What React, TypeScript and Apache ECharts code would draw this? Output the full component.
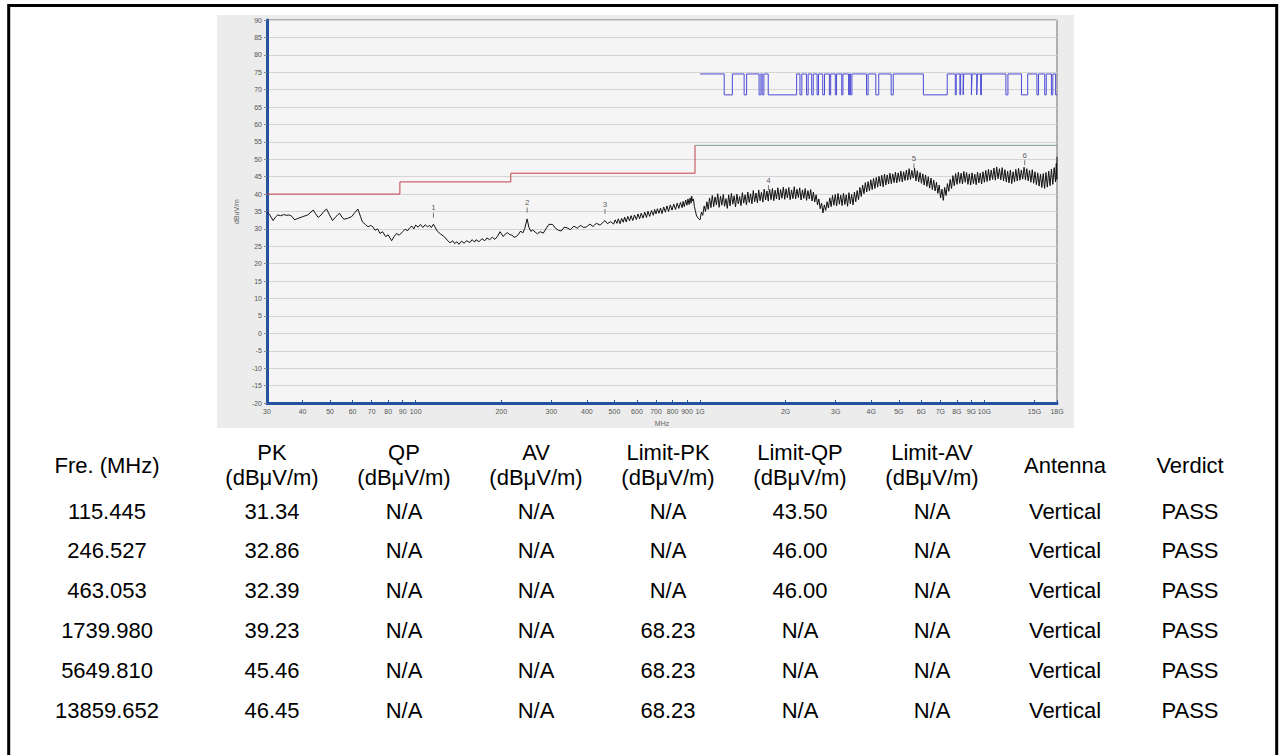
import React, { useEffect, useRef } from "react";
import * as echarts from "echarts";

// ---------- axis ticks ----------
const xTickFreqs = [30, 40, 50, 60, 70, 80, 90, 100, 200, 300, 400, 500, 600, 700, 800, 900, 1000, 2000, 3000, 4000, 5000, 6000, 7000, 8000, 9000, 10000, 15000, 18000];
const xTickLabels = ["30", "40", "50", "60", "70", "80", "90", "100", "200", "300", "400", "500", "600", "700", "800", "900", "1G", "2G", "3G", "4G", "5G", "6G", "7G", "8G", "9G", "10G", "15G", "18G"];
const yMin = -20;
const yMax = 90;
const yStep = 5;

// ---------- limit lines (MHz, dBuV/m) ----------
const limitRed: [number, number][] = [[30, 40], [88, 40], [88, 43.5], [216, 43.5], [216, 46], [960, 46], [960, 54]];
const limitGreen: [number, number][] = [[960, 54], [18000, 54]];

// ---------- blue step trace (MHz, level) ----------
const blueSteps: [number, number][] = [
  [1000, 74.5], [1216, 68.5], [1299, 74.5], [1429, 68.5], [1458, 74.5], [1613, 68.5], [1637, 74.5], [1654, 68.5], [1677, 74.5], [1737, 68.5],
  [2186, 74.5], [2246, 68.5], [2280, 74.5], [2369, 68.5], [2400, 74.5], [2470, 68.5], [2501, 74.5], [2580, 68.5], [2610, 74.5],
  [2700, 68.5], [2740, 74.5], [2850, 68.5], [2880, 74.5], [2990, 68.5], [3020, 74.5],
  [3150, 68.5], [3180, 74.5], [3330, 68.5], [3350, 74.5], [3380, 68.5], [3420, 74.5],
  [3850, 68.5], [3900, 74.5], [4150, 68.5], [4250, 74.5], [4700, 68.5], [4780, 74.5],
  [6100, 68.5], [7400, 74.5],
  [7900, 68.5], [7960, 74.5], [8200, 68.5], [8250, 74.5], [8420, 68.5], [8460, 74.5],
  [9000, 68.5], [9050, 74.5], [9400, 68.5], [9450, 74.5], [9700, 68.5], [9760, 74.5],
  [11900, 68.5], [12100, 74.5], [13500, 68.5], [14200, 74.5],
  [15300, 68.5], [15500, 74.5], [16300, 68.5], [16500, 74.5], [17200, 68.5], [17400, 74.5], [17800, 68.5], [18000, 68.5]
];

// ---------- measured emission trace (MHz, dBuV/m) ----------
const emission: [number, number][] = [
  [30, 34.9], [30.6, 34.2], [31.5, 32.4], [32.2, 33.5], [32.7, 34], [33.5, 33.8], [34.3, 34.1], [35.2, 33.9], [36, 34], [36.7, 33.6],
  [37.5, 32.6], [38.5, 33], [40, 33.5], [41.7, 34], [43.6, 35.4], [44.5, 34.3], [45.4, 33.3], [46.5, 34], [47.5, 35], [48.6, 35.7],
  [49.8, 34], [51, 32.4], [52.5, 33.6], [54, 34.5], [55, 33.4], [56, 32.8], [57.5, 33], [59.5, 33.5], [61, 34.6], [62.6, 35.7],
  [64, 33.5], [65, 32], [66.5, 31.3], [68, 30.6], [69.5, 31], [70.7, 30.6], [72, 29.6], [73.5, 30], [74.9, 28.7], [76.5, 29.2],
  [78.4, 27.8], [80, 28.3], [82.3, 26.6], [84, 27.8], [85.7, 28.7], [87.5, 28.2], [90, 29.2], [92, 30], [93.5, 29.4], [95, 30.2],
  [97, 30.8], [98.5, 30], [100, 31.1], [102, 30.5], [104, 31.3], [106, 30.4], [108, 31.2], [110, 30.6], [112, 31], [113.5, 30.4],
  [115.445, 31.34], [117, 30.5], [119, 29.4], [122, 28.6], [126, 27.8], [129, 26.8], [132, 26], [135, 26.6], [137, 25.8], [139.6, 26.3],
  [142, 25.6], [145, 26.5], [148, 25.9], [151, 26.6], [155, 26.1], [158, 26.9], [161, 26.2], [163, 26.9], [167, 26.3], [171, 27.2],
  [175, 26.6], [178, 27.4], [182, 26.9], [186, 27.6], [190, 27], [194, 27.9], [198, 29.2], [203, 27.8], [207, 28.6], [210, 28.9],
  [214, 28.4], [218, 28.2], [222, 27.6], [226, 27.8], [230, 28.5], [234, 29.4], [238, 28.8], [242, 30.2], [246.527, 32.86], [250, 30.5],
  [254, 29.3], [258, 29.7], [263, 29.1], [268, 28.6], [274, 29.2], [281, 28.8], [287, 30], [294, 31.3], [303, 31.3], [310, 30.2],
  [318, 29.6], [325, 29.4], [333, 30.5], [341, 30.3], [350, 29.8], [360, 30.8], [370, 30.2], [380, 31], [390, 30.4], [399, 30.6],
  [410, 31.4], [420, 30.7], [432, 31.6], [445, 31.1], [455, 31.8], [463.053, 32.39], [472, 31.5], [485, 32.1], [497, 31.4], [503, 32.6],
  [510, 31.6], [516, 32.9], [523, 31.5], [530, 33.0], [537, 31.9], [543, 33.4], [550, 32.0], [557, 33.6], [565, 32.3], [572, 33.8],
  [580, 32.4], [588, 34.0], [597, 32.7], [605, 34.3], [613, 32.9], [621, 34.5], [630, 33.1], [639, 34.8], [648, 33.3], [656, 35.1],
  [665, 33.6], [675, 35.3], [685, 33.9], [692, 35.6], [700, 34.3], [708, 35.8], [717, 34.5], [726, 36.0], [735, 34.4], [745, 36.3],
  [755, 34.8], [765, 36.6], [775, 35.0], [786, 36.9], [797, 35.4], [808, 37.1], [820, 35.6], [831, 37.4], [842, 35.9], [853, 37.6],
  [865, 36.1], [872, 37.9], [880, 36.4], [890, 38.3], [899, 36.8], [907, 38.6], [915, 37.0], [923, 38.9], [930, 37.4], [935, 39.4],
  [940, 38.0], [948, 38.6], [955, 36.4], [963, 35.2], [970, 34.0], [978, 33.4], [985, 33.1], [992, 32.8], [1000, 32.6], [1011, 34.8],
  [1022, 33.9], [1034, 36.6], [1045, 35.0], [1057, 37.8], [1068, 35.6], [1080, 38.9], [1092, 36.1], [1104, 39.6], [1117, 36.4], [1129, 39.2],
  [1142, 36.9], [1154, 40.1], [1167, 36.2], [1180, 39.4], [1193, 36.8], [1207, 39.9], [1220, 36.5], [1234, 38.7], [1247, 35.9], [1261, 39.8],
  [1275, 36.6], [1289, 40.2], [1304, 37.1], [1318, 39.5], [1333, 36.3], [1348, 40.0], [1363, 37.2], [1378, 39.3], [1393, 36.7], [1409, 40.4],
  [1424, 37.4], [1440, 39.8], [1456, 36.9], [1472, 40.6], [1489, 37.6], [1505, 40.1], [1522, 37.2], [1539, 41.0], [1556, 37.8], [1573, 40.3],
  [1591, 37.5], [1608, 41.2], [1626, 38.1], [1644, 40.5], [1663, 37.7], [1681, 41.4], [1700, 38.3], [1719, 40.9], [1738, 38.0], [1739.98, 39.23],
  [1757, 41.3], [1777, 38.4], [1797, 41.6], [1817, 38.1], [1837, 41.1], [1857, 38.6], [1878, 41.8], [1899, 38.3], [1920, 41.3], [1941, 38.8],
  [1963, 42.0], [1985, 38.5], [2007, 41.5], [2029, 38.9], [2052, 41.9], [2074, 38.4], [2098, 41.2], [2121, 38.7], [2144, 42.1], [2168, 38.6],
  [2192, 41.4], [2217, 39.0], [2241, 41.8], [2266, 38.3], [2292, 41.2], [2317, 38.8], [2343, 41.6], [2369, 38.2], [2395, 41.0], [2422, 38.6],
  [2449, 41.3], [2476, 38.0], [2504, 40.6], [2531, 37.7], [2560, 39.8], [2588, 36.9], [2617, 38.6], [2646, 35.8], [2676, 37.4], [2705, 34.6],
  [2736, 36.9], [2766, 35.3], [2797, 37.8], [2828, 36.0], [2859, 38.9], [2891, 36.4], [2923, 39.6], [2956, 36.8], [2989, 39.9], [3022, 36.6],
  [3056, 40.2], [3090, 37.1], [3124, 39.7], [3159, 36.7], [3194, 40.3], [3230, 37.0], [3266, 39.8], [3302, 36.5], [3339, 40.4], [3376, 37.2],
  [3413, 39.9], [3451, 36.9], [3490, 40.6], [3529, 37.8], [3568, 41.0], [3608, 38.4], [3648, 41.9], [3689, 39.3], [3730, 42.6], [3771, 40.1],
  [3813, 43.3], [3856, 40.6], [3899, 43.6], [3942, 40.9], [3986, 44.1], [4030, 41.3], [4075, 44.5], [4121, 41.6], [4167, 44.8], [4213, 42.0],
  [4260, 45.1], [4307, 42.3], [4355, 45.4], [4404, 42.1], [4453, 45.7], [4502, 42.6], [4552, 45.5], [4603, 42.9], [4654, 46.0], [4706, 43.0],
  [4759, 45.8], [4812, 43.3], [4865, 46.3], [4919, 43.2], [4974, 46.1], [5030, 43.6], [5086, 46.6], [5142, 43.5], [5200, 46.4], [5258, 43.9],
  [5316, 46.9], [5375, 44.0], [5435, 47.3], [5496, 44.2], [5557, 46.8], [5619, 44.6], [5649.81, 45.46], [5681, 47.4], [5744, 43.8], [5808, 46.7],
  [5873, 43.5], [5939, 46.2], [6005, 43.1], [6072, 45.8], [6139, 42.6], [6208, 45.5], [6277, 42.2], [6347, 45.0], [6417, 41.7], [6489, 44.6],
  [6561, 41.3], [6634, 44.0], [6708, 40.9], [6783, 43.4], [6859, 40.2], [6935, 42.6], [7012, 38.9], [7090, 41.4], [7169, 38.2], [7249, 41.9],
  [7330, 39.6], [7412, 43.0], [7494, 40.8], [7578, 44.2], [7662, 41.6], [7748, 45.3], [7834, 42.4], [7921, 45.9], [8010, 42.8], [8099, 46.3],
  [8189, 43.1], [8280, 46.0], [8373, 42.9], [8466, 46.5], [8560, 43.4], [8656, 46.2], [8752, 42.8], [8850, 45.8], [8948, 42.6], [9048, 46.1],
  [9149, 43.0], [9251, 45.7], [9354, 42.7], [9458, 46.3], [9563, 43.2], [9670, 46.0], [9778, 42.9], [9887, 46.4], [9997, 43.4], [10108, 46.8],
  [10221, 43.6], [10335, 47.1], [10450, 43.9], [10566, 46.9], [10684, 44.2], [10803, 47.5], [10924, 44.0], [11045, 47.8], [11168, 44.4], [11293, 47.3],
  [11419, 44.1], [11546, 47.6], [11675, 43.8], [11805, 47.0], [11936, 43.5], [12069, 46.6], [12204, 43.2], [12340, 46.9], [12477, 43.0], [12616, 46.4],
  [12757, 43.5], [12899, 47.1], [13043, 43.8], [13188, 47.4], [13335, 44.0], [13484, 46.9], [13634, 44.3], [13786, 47.7], [13859.652, 46.45], [13940, 44.1],
  [14095, 47.3], [14252, 43.8], [14411, 46.8], [14571, 43.4], [14734, 47.0], [14898, 43.1], [15064, 46.4], [15232, 42.7], [15401, 46.1], [15573, 42.3],
  [15746, 45.7], [15922, 41.9], [16099, 45.9], [16279, 41.6], [16460, 46.2], [16644, 42.0], [16829, 46.6], [17017, 42.4], [17206, 47.2], [17398, 42.8],
  [17592, 47.6], [17788, 43.5], [17900, 48.8], [17986, 44.2], [18000, 50.7]
];

// ---------- result table ----------
const tableHeaders = ["Fre. (MHz)", "PK\n(dBμV/m)", "QP\n(dBμV/m)", "AV\n(dBμV/m)", "Limit-PK\n(dBμV/m)", "Limit-QP\n(dBμV/m)", "Limit-AV\n(dBμV/m)", "Antenna", "Verdict"];
const colFreq = ["115.445", "246.527", "463.053", "1739.980", "5649.810", "13859.652"];
const colPK = ["31.34", "32.86", "32.39", "39.23", "45.46", "46.45"];
const colQP = ["N/A", "N/A", "N/A", "N/A", "N/A", "N/A"];
const colAV = ["N/A", "N/A", "N/A", "N/A", "N/A", "N/A"];
const colLimitPK = ["N/A", "N/A", "N/A", "68.23", "68.23", "68.23"];
const colLimitQP = ["43.50", "46.00", "46.00", "N/A", "N/A", "N/A"];
const colLimitAV = ["N/A", "N/A", "N/A", "N/A", "N/A", "N/A"];
const colAntenna = ["Vertical", "Vertical", "Vertical", "Vertical", "Vertical", "Vertical"];
const colVerdict = ["PASS", "PASS", "PASS", "PASS", "PASS", "PASS"];

const FONT = "'Liberation Sans', Arial, Helvetica, sans-serif";

export default function App() {
  const ref = useRef<HTMLDivElement>(null);

  useEffect(() => {
    if (!ref.current) return;
    const chart = echarts.init(ref.current, undefined, { renderer: "svg" });

    const logTicks = xTickFreqs.map((f) => Math.log10(f));
    const tickLabel = (v: number) => {
      const i = xTickFreqs.findIndex((f) => Math.abs(Math.log10(f) - v) < 1e-6);
      return i >= 0 ? xTickLabels[i] : "";
    };

    const columns = [colFreq, colPK, colQP, colAV, colLimitPK, colLimitQP, colLimitAV, colAntenna, colVerdict];
    const colX = [107, 272, 404, 536, 668, 800, 932, 1065, 1190];
    const headerY = 465;
    const rowY0 = 511;
    const rowGap = 39.8;
    const tableFont = `22px ${FONT}`;

    const tableTexts: any[] = [];
    tableHeaders.forEach((h, c) => {
      tableTexts.push({
        type: "text",
        x: colX[c],
        y: headerY,
        z: 20,
        style: { text: h, fill: "#000", font: tableFont, align: "center", verticalAlign: "middle", lineHeight: 25 },
      });
    });
    columns.forEach((col, c) => {
      col.forEach((val, r) => {
        tableTexts.push({
          type: "text",
          x: colX[c],
          y: rowY0 + r * rowGap,
          z: 20,
          style: { text: val, fill: "#000", font: tableFont, align: "center", verticalAlign: "middle" },
        });
      });
    });

    const markerData = colFreq.map((f, i) => ({
      value: [Number(f), Number(colPK[i])],
      itemStyle: { color: "#555555" },
      label: { color: "#333333" },
    }));

    const option: any = {
      animation: false,
      backgroundColor: "#ffffff",
      textStyle: { fontFamily: FONT },
      grid: {
        left: 267,
        top: 20,
        right: 225,
        bottom: 352,
        show: true,
        backgroundColor: "#f5f5f5",
        borderColor: "#6f6f6f",
        borderWidth: 1,
      },
      xAxis: [
        {
          type: "log",
          logBase: 10,
          min: 30,
          max: 18000,
          position: "bottom",
          axisLine: { show: true, onZero: false, lineStyle: { color: "#24529e", width: 3 } },
          axisTick: { show: false },
          axisLabel: { show: false },
          splitLine: { show: false },
          name: "MHz",
          nameLocation: "middle",
          nameGap: 17,
          nameTextStyle: { fontSize: 7, color: "#666" },
        },
        {
          type: "value",
          position: "bottom",
          min: Math.log10(30),
          max: Math.log10(18000),
          axisLine: { show: false, onZero: false },
          axisTick: { show: true, inside: true, length: 3, customValues: logTicks, lineStyle: { color: "#24529e" } },
          axisLabel: { customValues: logTicks, formatter: tickLabel, fontSize: 7, color: "#555", margin: 5 },
          splitLine: { show: false },
        },
      ],
      yAxis: {
        type: "value",
        min: yMin,
        max: yMax,
        interval: yStep,
        axisLine: { show: true, lineStyle: { color: "#24529e", width: 3 } },
        axisTick: { show: true, length: 3, lineStyle: { color: "#888" } },
        axisLabel: { fontSize: 7, color: "#555", margin: 5 },
        splitLine: { show: true, lineStyle: { color: "#d4d4d4", width: 1 } },
        name: "dBuV/m",
        nameLocation: "middle",
        nameRotate: 90,
        nameGap: 27,
        nameTextStyle: { fontSize: 7, color: "#666" },
      },
      series: [
        {
          name: "Limit",
          type: "line",
          xAxisIndex: 0,
          data: limitRed,
          showSymbol: false,
          lineStyle: { color: "#c2404c", width: 1 },
          z: 3,
        },
        {
          name: "Limit PK",
          type: "line",
          xAxisIndex: 0,
          data: limitGreen,
          showSymbol: false,
          lineStyle: { color: "#7fa08a", width: 1 },
          z: 3,
        },
        {
          name: "Height",
          type: "line",
          xAxisIndex: 0,
          data: blueSteps,
          step: "end",
          showSymbol: false,
          lineStyle: { color: "#4b4bd6", width: 1 },
          z: 3,
        },
        {
          name: "Emission",
          type: "line",
          xAxisIndex: 0,
          data: emission,
          showSymbol: false,
          lineStyle: { color: "#111111", width: 1 },
          z: 4,
        },
        {
          name: "Markers",
          type: "scatter",
          xAxisIndex: 0,
          colorBy: "series",
          data: markerData,
          symbol: "rect",
          symbolSize: [1, 5],
          symbolOffset: [0, -9],
          itemStyle: { color: "#555555" },
          label: {
            show: true,
            position: "top",
            distance: 1,
            formatter: (p: any) => String(p.dataIndex + 1),
            fontSize: 8,
            color: "#333333",
          },
          z: 5,
        },
      ],
      graphic: [
        {
          type: "rect",
          z: -10,
          shape: { x: 217, y: 15, width: 857, height: 413 },
          style: { fill: "#ececec" },
        },
        {
          type: "rect",
          z: 30,
          shape: { x: 8.7, y: 5.5, width: 1268, height: 760 },
          style: { fill: "none", stroke: "#000", lineWidth: 3 },
        },
        ...tableTexts,
      ],
    };

    chart.setOption(option);
    return () => chart.dispose();
  }, []);

  return (
    <div
      ref={ref}
      style={{ position: "absolute", left: 0, top: 0, width: 1282, height: 755, background: "#fff" }}
    />
  );
}
